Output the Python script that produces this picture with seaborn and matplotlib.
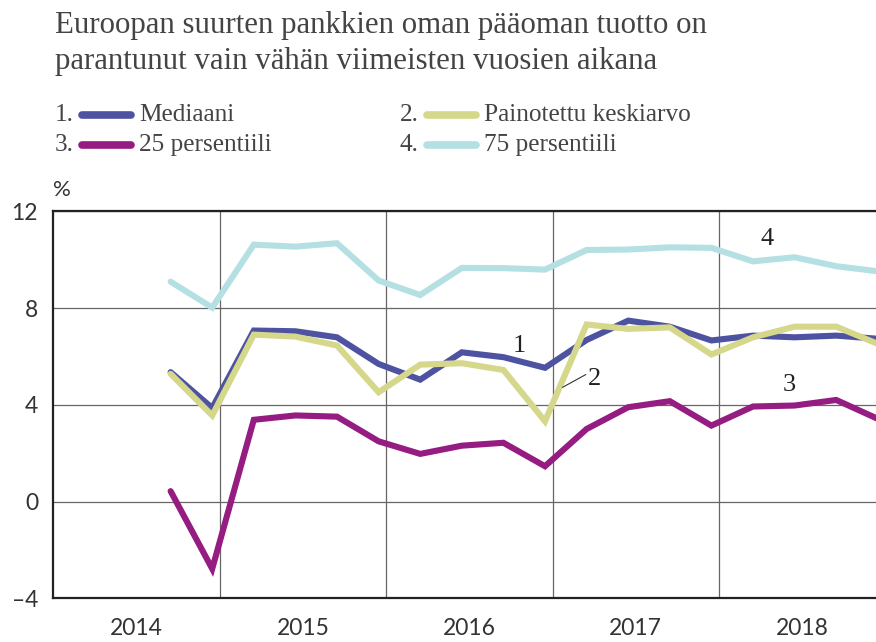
import pandas as pd
import matplotlib.pyplot as plt
import seaborn as sns
from matplotlib.lines import Line2D

# quarterly data, 2014Q3 .. 2018Q4
quarters = ['2014Q3', '2014Q4',
            '2015Q1', '2015Q2', '2015Q3', '2015Q4',
            '2016Q1', '2016Q2', '2016Q3', '2016Q4',
            '2017Q1', '2017Q2', '2017Q3', '2017Q4',
            '2018Q1', '2018Q2', '2018Q3', '2018Q4']

mediaani = [5.35, 3.87, 7.07, 7.04, 6.79, 5.69, 5.04, 6.17, 5.97, 5.53,
            6.68, 7.48, 7.23, 6.66, 6.86, 6.79, 6.86, 6.73]
painotettu = [5.28, 3.56, 6.90, 6.82, 6.45, 4.52, 5.66, 5.72, 5.44, 3.32,
              7.32, 7.14, 7.20, 6.08, 6.79, 7.23, 7.23, 6.52]
p25 = [0.43, -2.78, 3.38, 3.56, 3.51, 2.49, 1.97, 2.31, 2.43, 1.46,
       3.00, 3.90, 4.15, 3.14, 3.93, 3.97, 4.20, 3.42]
p75 = [9.09, 8.02, 10.62, 10.54, 10.68, 9.14, 8.54, 9.66, 9.65, 9.59,
       10.40, 10.42, 10.51, 10.49, 9.93, 10.10, 9.73, 9.52]

names = ['Mediaani', 'Painotettu keskiarvo', '25 persentiili', '75 persentiili']
colors = ['#4e53a1', '#d5d78a', '#951c81', '#b5e0e3']
years = [2014, 2015, 2016, 2017, 2018]

title1 = 'Euroopan suurten pankkien oman pääoman tuotto on'
title2 = 'parantunut vain vähän viimeisten vuosien aikana'

# quarter -> decimal year (points sit a little before quarter end)
def qpos(q):
    return int(q[:4]) + int(q[5]) * 0.25 - 0.045

x = [qpos(q) for q in quarters]
order = ['75 persentiili', '25 persentiili', 'Mediaani', 'Painotettu keskiarvo']
df = pd.concat([
    pd.DataFrame({'x': x, 'y': v, 'sarja': n})
    for n, v in zip(order, [p75, p25, mediaani, painotettu])
])

sns.set_style('white')
plt.rcParams['font.family'] = ['Lato', 'DejaVu Sans']
txt = '#333333'
serif = ['Liberation Serif', 'DejaVu Serif']

fig = plt.figure(figsize=(8.76, 6.42), dpi=100)
ax = fig.add_axes([53.3 / 876, 1 - 598.3 / 642, 832 / 876, 387 / 642])

pal = dict(zip(names, colors))
sns.lineplot(data=df, x='x', y='y', hue='sarja', palette=pal, hue_order=order,
             linewidth=4.4, legend=False, ax=ax, solid_joinstyle='miter')

ax.set_xlim(years[0], years[-1] + 1)
ax.set_ylim(-4, 12)
ax.set_yticks([-4, 0, 4, 8, 12])
ax.set_yticklabels(['\u20134', '0', '4', '8', '12'])
ax.set_xticks(years[1:])
ax.set_xticklabels([])
ax.set_xticks([y + 0.5 for y in years], minor=True)
ax.set_xticklabels([str(y) for y in years], minor=True)
ax.tick_params(axis='both', which='both', length=0, labelsize=16.5, colors=txt)
ax.tick_params(axis='y', pad=11)
ax.tick_params(axis='x', which='minor', pad=14)
ax.set_xlabel('')
ax.set_ylabel('')

ax.grid(True, which='major', color='#666666', linewidth=0.9)
ax.set_axisbelow(True)
for s in ['left', 'bottom', 'top']:
    ax.spines[s].set_color('#222222')
    ax.spines[s].set_linewidth(1.6)
ax.spines['right'].set_visible(False)

ax.text(0.0, 1.028, '%', transform=ax.transAxes, fontsize=16, color=txt,
        ha='left', va='bottom')

# series labels
lab = dict(fontsize=19, color='#222222', family=serif, ha='center', va='center')
ax.text(2016.80, 6.45, '1', **lab)
ax.text(2017.25, 5.05, '2', **lab)
ax.plot([2017.06, 2017.20], [4.72, 5.25], color='#333333', linewidth=0.8)
ax.text(2018.42, 4.8, '3', **lab)
ax.text(2018.29, 10.85, '4', **lab)

# title
for ty, t in [(33, title1), (69, title2)]:
    fig.text(55 / 876, 1 - ty / 642, t, fontsize=22.2, color='#444444', family=serif,
             ha='left', va='baseline')

# legend drawn by hand, two columns
leg = [(55, 115, '1.', 0), (400, 115, '2.', 1), (55, 145, '3.', 2), (400, 145, '4.', 3)]
for px, py, num, i in leg:
    yf = 1 - py / 642
    fig.text(px / 876, yf, num, fontsize=18.2, color='#444444', family=serif,
             ha='left', va='center')
    fig.add_artist(Line2D([(px + 27) / 876, (px + 76) / 876], [yf, yf],
                          color=colors[i], linewidth=5.5, solid_capstyle='round',
                          transform=fig.transFigure))
    fig.text((px + 84) / 876, yf, names[i], fontsize=18.2, color='#444444', family=serif,
             ha='left', va='center')

fig.savefig('out.png', dpi=100)
